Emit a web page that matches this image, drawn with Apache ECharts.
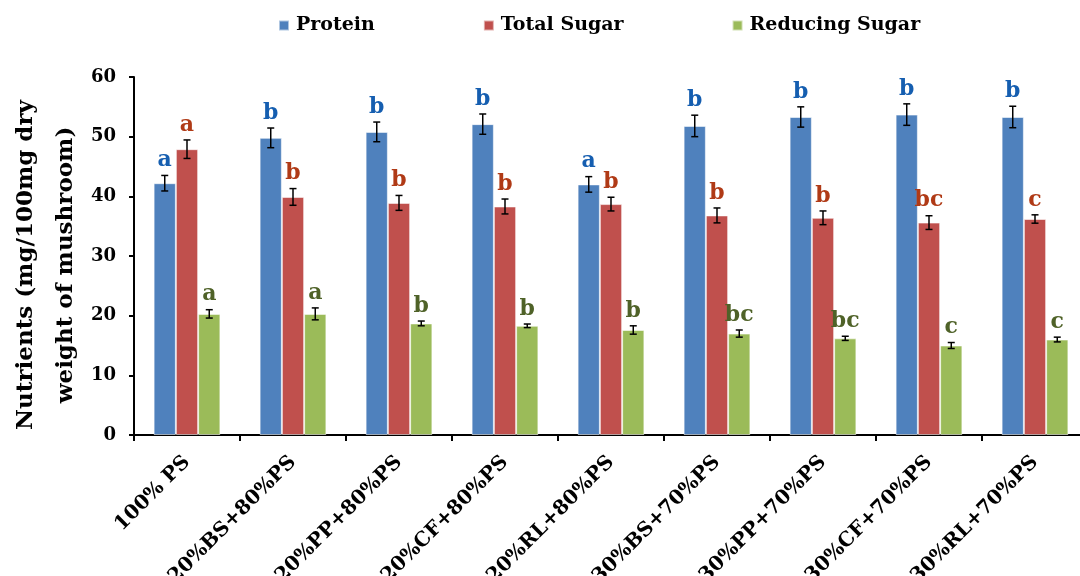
<!DOCTYPE html>
<html>
<head>
<meta charset="utf-8">
<script src="https://cdn.jsdelivr.net/npm/echarts@6/dist/echarts.min.js"></script>
<style>
  html, body { margin: 0; padding: 0; background: #fff; overflow: hidden; }
  #chart { width: 1080px; height: 576px; }
</style>
</head>
<body>
<div id="chart"></div>
<script>
// Treatments (substrate mixtures)
const categories = ['100% PS', '20%BS+80%PS', '20%PP+80%PS', '20%CF+80%PS', '20%RL+80%PS',
                    '30%BS+70%PS', '30%PP+70%PS', '30%CF+70%PS', '30%RL+70%PS'];

// Means (mg/100mg dry weight)
const protein      = [42.2, 49.8, 50.8, 52.1, 42.0, 51.8, 53.3, 53.7, 53.3];
const totalSugar   = [47.9, 39.9, 38.9, 38.3, 38.7, 36.8, 36.4, 35.6, 36.2];
const reducingSug  = [20.3, 20.3, 18.7, 18.3, 17.6, 17.0, 16.2, 15.0, 16.0];

// Standard errors
const proteinErr   = [1.3, 1.65, 1.65, 1.7, 1.3, 1.8, 1.7, 1.8, 1.8];
const totalErr     = [1.55, 1.4, 1.25, 1.25, 1.15, 1.25, 1.15, 1.15, 0.7];
const reducingErr  = [0.7, 1.0, 0.4, 0.3, 0.7, 0.6, 0.35, 0.5, 0.4];

// Significance letters
const proteinSig   = ['a', 'b', 'b', 'b', 'a', 'b', 'b', 'b', 'b'];
const totalSig     = ['a', 'b', 'b', 'b', 'b', 'b', 'b', 'bc', 'c'];
const reducingSig  = ['a', 'a', 'b', 'b', 'b', 'bc', 'bc', 'c', 'c'];

const seriesNames  = ['Protein', 'Total Sugar', 'Reducing Sugar'];
const barColors    = ['#4F81BD', '#C0504D', '#9BBB59'];
const letterColors = ['#155EB0', '#B03A16', '#4F6228'];

const FONT = 'DejaVu Serif';
const CATEGORY_GAP = 0.37;

const groups = [
  { values: protein, errs: proteinErr, sig: proteinSig },
  { values: totalSugar, errs: totalErr, sig: totalSig },
  { values: reducingSug, errs: reducingErr, sig: reducingSig }
];

const barSeries = groups.map((g, k) => ({
  name: seriesNames[k],
  type: 'bar',
  data: g.values,
  barGap: '0%',
  barCategoryGap: (CATEGORY_GAP * 100) + '%',
  itemStyle: { color: barColors[k], borderColor: 'rgba(255,255,255,0.55)', borderWidth: 1 },
  emphasis: { disabled: true },
  z: 2
}));

// Error bars and significance letters, placed through the axis scales
const errSeries = groups.map((g, k) => ({
  type: 'custom',
  silent: true,
  z: 5,
  data: g.values.map((v, i) => [i, v, g.errs[i]]),
  renderItem: function (params, api) {
    const i = api.value(0), v = api.value(1), e = api.value(2);
    const band = api.size([1, 0])[0];
    const barW = band * (1 - CATEGORY_GAP) / 3;
    const cx = api.coord([i, v])[0] + (k - 1) * barW;
    const yTop = api.coord([i, v + e])[1];
    const yBot = api.coord([i, v - e])[1];
    const cap = 3.5;
    const style = { stroke: '#000', lineWidth: 1.5 };
    return {
      type: 'group',
      children: [
        { type: 'line', shape: { x1: cx, y1: yTop, x2: cx, y2: yBot }, style: style },
        { type: 'line', shape: { x1: cx - cap, y1: yTop, x2: cx + cap, y2: yTop }, style: style },
        { type: 'line', shape: { x1: cx - cap, y1: yBot, x2: cx + cap, y2: yBot }, style: style },
        {
          type: 'text',
          style: {
            text: g.sig[params.dataIndex],
            x: cx, y: yTop - 4,
            align: 'center', verticalAlign: 'bottom',
            fill: letterColors[k],
            font: 'bold 22px "' + FONT + '"'
          }
        }
      ]
    };
  }
}));

const chart = echarts.init(document.getElementById('chart'), null, { renderer: 'canvas' });
chart.setOption({
  animation: false,
  backgroundColor: '#ffffff',
  textStyle: { fontFamily: FONT },
  legend: {
    data: seriesNames,
    top: 11,
    left: 273,
    itemWidth: 10,
    itemHeight: 10,
    itemGap: 108,
    icon: 'rect',
    textStyle: { fontFamily: FONT, fontWeight: 'bold', fontSize: 19, color: '#000', padding: [0, 0, 0, 2] }
  },
  grid: {
    left: 134, right: -8, top: 77, bottom: 141,
    containLabel: false,
    outerBoundsMode: 'none'
  },
  xAxis: {
    type: 'category',
    data: categories,
    axisLine: { lineStyle: { color: '#000', width: 2 } },
    axisTick: { show: true, alignWithLabel: false, length: 6, lineStyle: { color: '#000', width: 2 } },
    axisLabel: {
      rotate: 45,
      interval: 0,
      margin: 24,
      color: '#000',
      fontFamily: FONT,
      fontWeight: 'bold',
      fontSize: 20
    }
  },
  yAxis: {
    type: 'value',
    min: 0,
    max: 60,
    interval: 10,
    name: 'Nutrients (mg/100mg dry\nweight of mushroom)',
    nameLocation: 'middle',
    nameRotate: 90,
    nameGap: 48,
    nameMoveOverlap: false,
    nameTextStyle: {
      fontFamily: FONT, fontWeight: 'bold', fontSize: 23, color: '#000',
      lineHeight: 40, padding: [0, 18, 0, 0]
    },
    splitLine: { show: false },
    axisLine: { show: true, lineStyle: { color: '#000', width: 2 } },
    axisTick: { show: true, length: 5, lineStyle: { color: '#000', width: 2 } },
    axisLabel: { color: '#000', fontFamily: FONT, fontWeight: 'bold', fontSize: 18, margin: 18 }
  },
  series: barSeries.concat(errSeries)
});
</script>
</body>
</html>
